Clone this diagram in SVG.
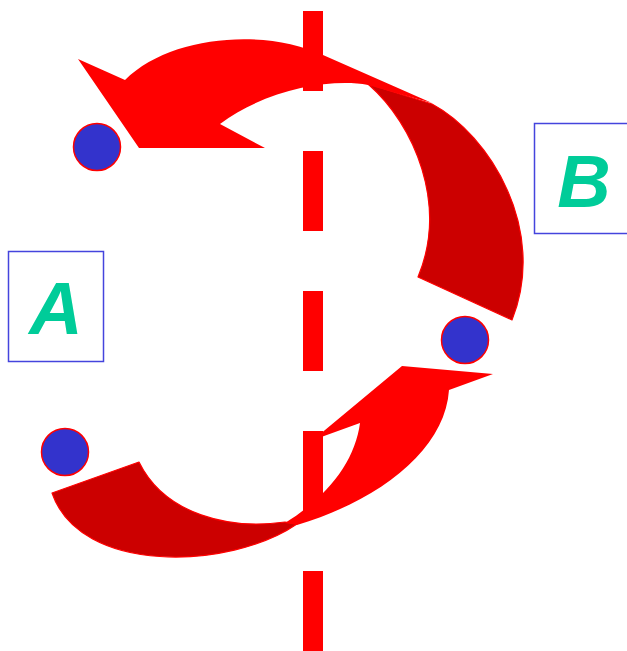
<svg xmlns="http://www.w3.org/2000/svg" width="627" height="651" viewBox="0 0 627 651">
  <style>
    .back { fill: #cc0000; stroke: #ff0000; stroke-width: 1.2; stroke-linejoin: round; }
    .front { fill: #ff0000; stroke: none; }
    .dot { fill: #3333cc; stroke: #ff0000; stroke-width: 1.5; }
    .box { fill: #ffffff; stroke: #4444dd; stroke-width: 1.5; }
    .lbl { font-family: "Liberation Sans", Arial, sans-serif; font-size: 74px; font-weight: bold; font-style: italic; fill: #00cc99; text-anchor: middle; }
    .axis { stroke: #ff0000; stroke-width: 20; stroke-dasharray: 80 60; fill: none; }
  </style>
  <rect width="627" height="651" fill="#ffffff"/>

  <g id="connectors">
    <g id="arrow-top">
      <path class="back" d="M368,84 L432,104 C490,135 548,230 512,320 L418,277 C448,205 415,125 368,84 Z"/>
      <path class="front" d="M139,148 L78,59 L125,80 C170,35 265,28 323,55 L432,103 L368,85 C330,78 265,90 220,124 L265,148 Z"/>
    </g>
    <g id="arrow-bottom">
      <path class="back" d="M52,493 L139,462 C165,515 230,530 285,522 L297,524 C230,570 80,575 52,493 Z"/>
      <path class="front" d="M285,523 C330,495 355,460 360,423 L313,440 L402,366 L493,374 L449,390 C445,450 380,500 297,525 Z"/>
    </g>
    <line id="axis" class="axis" x1="313" y1="11" x2="313" y2="651"/>
  </g>

  <g id="dot-top-left"><circle class="dot" cx="97" cy="147" r="23.5"/></g>
  <g id="dot-right"><circle class="dot" cx="465" cy="340" r="23.5"/></g>
  <g id="dot-bottom-left"><circle class="dot" cx="65" cy="452" r="23.5"/></g>

  <g id="node-A">
    <rect class="box" x="8.5" y="251.5" width="95" height="110"/>
    <text class="lbl" x="56" y="334">A</text>
  </g>
  <g id="node-B">
    <rect class="box" x="534.5" y="123.5" width="100" height="110"/>
    <text class="lbl" x="584" y="207">B</text>
  </g>
</svg>
